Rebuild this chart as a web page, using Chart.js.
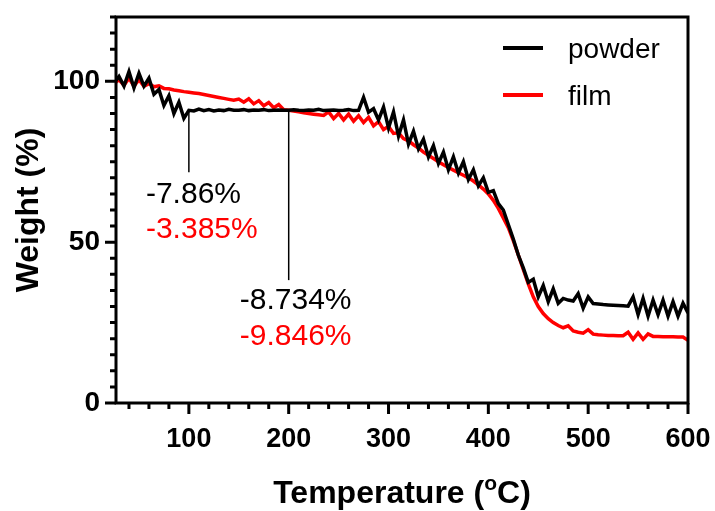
<!DOCTYPE html>
<html>
<head>
<meta charset="utf-8">
<title>TGA powder vs film</title>
<script src="https://cdn.jsdelivr.net/npm/chart.js@4/dist/chart.umd.min.js"></script>
<style>
  html, body { margin: 0; padding: 0; background: #fff; }
  #wrap { width: 715px; height: 511px; }
</style>
</head>
<body>
<div id="wrap"><canvas id="tga" width="715" height="511"></canvas></div>
<script>
// Temperature (°C) of each sample
const temperature = [
  27, 30, 35, 40, 45, 50, 55, 60, 65, 70, 75, 80, 85, 90, 95,
  100, 105, 110, 115, 120, 125, 130, 135, 140, 145, 150, 155, 160, 165, 170, 175, 180, 185, 190, 195,
  200, 205, 210, 215, 220, 225, 230, 235, 240, 245, 250, 255, 260, 265, 270, 275, 280, 285, 290, 295,
  300, 305, 310, 315, 320, 325, 330, 335, 340, 345, 350, 355, 360, 365, 370, 375, 380, 385, 390, 395,
  400, 405, 410, 415, 420, 425, 430, 435, 440, 445, 450, 455, 460, 465, 470, 475, 480, 485, 490, 495,
  500, 505, 510, 515, 520, 525, 530, 535, 540, 545, 550, 555, 560, 565, 570, 575, 580, 585, 590, 595,
  600
];

// Weight (%) - powder
const powderWeight = [
  100.3, 101.5, 98.5, 103, 98, 102.5, 98.5, 101, 96, 97.5, 92.5, 95.5, 90, 93.5, 88.5,
  91, 90.8, 91.4, 90.9, 91.2, 90.8, 91.1, 90.9, 91.3, 91, 91, 91.2, 90.9, 91.1, 91, 91.2, 90.9, 91, 91.1, 91,
  91, 91.2, 91, 90.9, 91.1, 91, 91.3, 90.9, 91, 91.1, 90.9, 91, 91.2, 90.9, 91, 95, 90.4, 91.5, 88, 92,
  85.5, 90.5, 83, 88, 80.5, 84.5, 79, 82, 76.5, 80, 74.5, 78, 72.5, 76.5, 71.5, 75, 69.5, 72.5, 67.5, 70,
  65.5, 66, 62, 60, 55.5, 51, 46, 42, 37.5, 38.5, 33, 36.5, 31.5, 35.5, 31, 32.5, 32, 31.7, 34, 29.5,
  33, 30.9, 30.8, 30.6, 30.5, 30.4, 30.3, 30.2, 30.1, 33, 27.5, 32.5, 27, 32, 27.5, 32, 27, 31.5, 27, 31,
  28
];

// Weight (%) - film
const filmWeight = [
  99.8, 100.5, 98.8, 101, 98.5, 100.5, 98.5, 99.3, 98.3, 98.6, 97.8, 97.7, 97.3, 97.1, 96.8,
  96.6, 96.4, 96.2, 95.9, 95.6, 95.3, 95, 94.7, 94.4, 94.1, 94.5, 93.5, 94.6, 93, 94, 92.4, 93.4, 91.8, 92.8, 91.2,
  91, 90.8, 90.5, 90.2, 90, 89.8, 89.6, 89.4, 90.5, 88.4, 90, 88, 89.8, 87.6, 89.3, 87.2, 88.8, 86.2, 87.5, 85,
  86, 83.8, 84, 82.2, 81.5, 80.3, 79.3, 78, 77, 76, 75, 74.1, 73.2, 72.4, 71.6, 70.8, 70, 69, 67.8, 66.5,
  65, 63, 60.5, 57.5, 54.5, 50.5, 46, 41.5, 37, 33, 30, 27.8, 26.2, 25, 24.1, 23.4, 24, 22.4, 22, 21.7,
  22.8, 21.4, 21.2, 21.1, 21, 21, 20.9, 20.9, 22, 19.8, 21.8, 19.8, 21.5, 20.7, 20.7, 20.6, 20.6, 20.6, 20.5, 20.5,
  19.5
];

const xTicks = [100, 200, 300, 400, 500, 600];
const yTicks = [0, 50, 100];

// weight-loss annotations: temperature of the step, black / red label
const stepTemps = [100, 200];
const powderLoss = ['-7.86%', '-8.734%'];
const filmLoss = ['-3.385%', '-9.846%'];

const FONT = "'Liberation Sans', Arial, Helvetica, sans-serif";
Chart.defaults.font.family = FONT;
Chart.defaults.color = '#000';

function toPoints(xs, ys) {
  return xs.map((t, i) => ({ x: t, y: ys[i] }));
}

function noEdgePadding(s) {
  s.paddingTop = 0;
  s.paddingBottom = 0;
  s.paddingLeft = 0;
  s.paddingRight = 0;
}

// frame, tick marks, axis titles, annotations and legend
const decorations = {
  id: 'decorations',
  afterDraw(chart) {
    const { ctx, chartArea: a, scales: { x, y } } = chart;
    ctx.save();
    ctx.strokeStyle = '#000';
    ctx.fillStyle = '#000';
    ctx.lineWidth = 3;
    ctx.lineCap = 'butt';

    // box
    ctx.strokeRect(a.left, a.top, a.right - a.left, a.bottom - a.top);

    // tick marks (outside)
    ctx.beginPath();
    for (let t = 40; t <= 600; t += 20) {
      const px = x.getPixelForValue(t);
      const len = t % 100 === 0 ? 11 : 6;
      ctx.moveTo(px, a.bottom);
      ctx.lineTo(px, a.bottom + len);
    }
    for (let v = 0; v <= 120; v += 5) {
      const py = y.getPixelForValue(v);
      const len = v % 50 === 0 ? 11 : 6;
      ctx.moveTo(a.left, py);
      ctx.lineTo(a.left - len, py);
    }
    ctx.stroke();

    // y title
    ctx.save();
    ctx.translate(29, (a.top + a.bottom) / 2);
    ctx.rotate(-Math.PI / 2);
    ctx.font = 'bold 32px ' + FONT;
    ctx.textAlign = 'center';
    ctx.textBaseline = 'middle';
    ctx.fillText('Weight (%)', 0, 0);
    ctx.restore();

    // x title with superscript o
    const big = 'bold 32px ' + FONT;
    const small = 'bold 21px ' + FONT;
    const p1 = 'Temperature (', p2 = 'o', p3 = 'C)';
    ctx.font = big;
    const w1 = ctx.measureText(p1).width, w3 = ctx.measureText(p3).width;
    ctx.font = small;
    const w2 = ctx.measureText(p2).width;
    let tx = (a.left + a.right) / 2 - (w1 + w2 + w3) / 2;
    const base = 503;
    ctx.textAlign = 'left';
    ctx.textBaseline = 'alphabetic';
    ctx.font = big;
    ctx.fillText(p1, tx, base);
    tx += w1;
    ctx.font = small;
    ctx.fillText(p2, tx, base - 13);
    tx += w2;
    ctx.font = big;
    ctx.fillText(p3, tx, base);

    // annotations
    const leaderEnd = [71.7, 38.2];
    const textLeft = [57, 151];
    const blackBase = [62.1, 29.2];
    const redBase = [51.2, 18.0];
    ctx.lineWidth = 1.5;
    ctx.font = '30px ' + FONT;
    stepTemps.forEach((t, i) => {
      const px = x.getPixelForValue(t);
      const idx = temperature.indexOf(t);
      ctx.beginPath();
      ctx.moveTo(px, y.getPixelForValue(powderWeight[idx]));
      ctx.lineTo(px, y.getPixelForValue(leaderEnd[i]));
      ctx.strokeStyle = '#000';
      ctx.stroke();
      const lx = x.getPixelForValue(textLeft[i]);
      ctx.fillStyle = '#000';
      ctx.fillText(powderLoss[i], lx, y.getPixelForValue(blackBase[i]));
      ctx.fillStyle = '#ff0000';
      ctx.fillText(filmLoss[i], lx, y.getPixelForValue(redBase[i]));
    });

    // legend
    const items = chart.data.datasets;
    const ly = [48, 95];
    ctx.font = '28px ' + FONT;
    ctx.textBaseline = 'alphabetic';
    items.forEach((ds, i) => {
      ctx.beginPath();
      ctx.lineWidth = 4;
      ctx.strokeStyle = ds.borderColor;
      ctx.moveTo(503, ly[i]);
      ctx.lineTo(543, ly[i]);
      ctx.stroke();
      ctx.fillStyle = '#000';
      ctx.fillText(ds.label, 568, ly[i] + 10);
    });
    ctx.restore();
  }
};

new Chart(document.getElementById('tga'), {
  type: 'line',
  data: {
    datasets: [
      {
        label: 'powder',
        data: toPoints(temperature, powderWeight),
        borderColor: '#000000',
        borderWidth: 3.5,
        pointRadius: 0,
        tension: 0
      },
      {
        label: 'film',
        data: toPoints(temperature, filmWeight),
        borderColor: '#ff0000',
        borderWidth: 3.5,
        pointRadius: 0,
        tension: 0
      }
    ]
  },
  options: {
    responsive: false,
    animation: false,
    devicePixelRatio: 1,
    layout: { padding: { top: 17, right: 27, left: 0, bottom: 0 } },
    plugins: {
      legend: { display: false },
      tooltip: { enabled: false }
    },
    scales: {
      x: {
        type: 'linear',
        min: 27,
        max: 600,
        grid: { display: false, drawTicks: false },
        border: { display: false },
        ticks: { font: { size: 27, weight: 'bold' }, padding: 20, color: '#000' },
        afterBuildTicks: s => { s.ticks = xTicks.map(v => ({ value: v })); },
        afterFit: s => { s.height = 108; noEdgePadding(s); }
      },
      y: {
        min: 0,
        max: 120,
        grid: { display: false, drawTicks: false },
        border: { display: false },
        ticks: { font: { size: 28, weight: 'bold' }, padding: 16, color: '#000' },
        afterBuildTicks: s => { s.ticks = yTicks.map(v => ({ value: v })); },
        afterFit: s => { s.width = 116; noEdgePadding(s); }
      }
    }
  },
  plugins: [decorations]
});
</script>
</body>
</html>
